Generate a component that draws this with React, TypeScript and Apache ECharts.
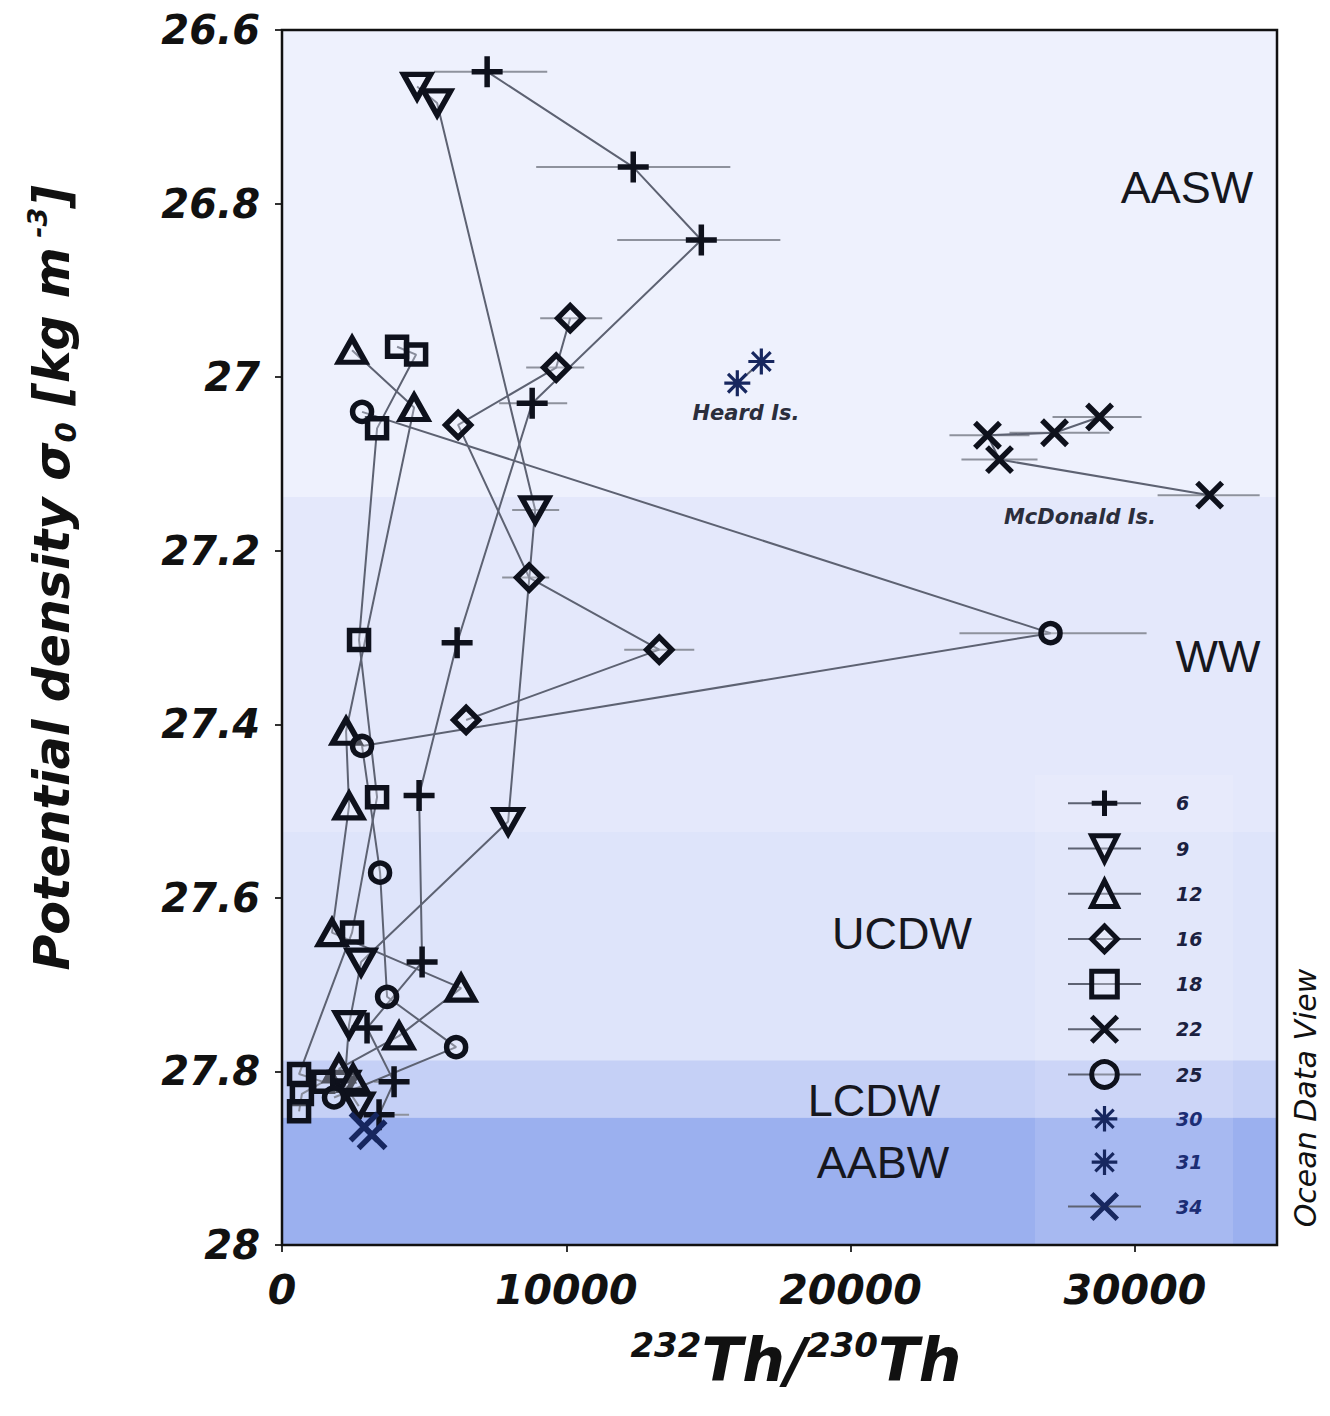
import React, { useEffect, useRef } from 'react';
import * as echarts from 'echarts';

// ---------- data ----------
const xTicks = [0, 10000, 20000, 30000];
const yTicks = [26.6, 26.8, 27, 27.2, 27.4, 27.6, 27.8, 28];

const stationNames = ['6', '9', '12', '16', '18', '22', '25', '30', '31', '34'];

// [232Th/230Th, sigma0]
const st6 = [[7216, 26.648], [12355, 26.758], [14750, 26.842], [8800, 27.03], [6160, 27.306], [4822, 27.482], [4928, 27.674], [2992, 27.75], [3942, 27.812], [3414, 27.85]];
const st9 = [[4752, 26.665], [5456, 26.684], [8906, 27.153], [7955, 27.512], [2781, 27.674], [2358, 27.746], [2200, 27.815], [2700, 27.84]];
const st12 = [[2464, 26.969], [4646, 27.035], [2253, 27.408], [2358, 27.494], [1760, 27.64], [6300, 27.704], [4118, 27.759], [2000, 27.797], [2500, 27.808]];
const st16 = [[10138, 26.932], [9645, 26.989], [6195, 27.055], [8694, 27.231], [13270, 27.314], [6477, 27.395]];
const st18 = [[4048, 26.965], [4717, 26.974], [3344, 27.059], [2710, 27.303], [3344, 27.484], [2464, 27.64], [600, 27.803], [1450, 27.812], [700, 27.826], [600, 27.846]];
const st22 = [[28758, 27.046], [27174, 27.064], [24816, 27.067], [25238, 27.095], [32630, 27.136]];
const st25 = [[2816, 27.04], [27034, 27.295], [2816, 27.425], [3450, 27.571], [3696, 27.714], [6125, 27.772], [1830, 27.83]];
const st30 = [[16016, 27.007]];
const st31 = [[16861, 26.982]];
const st34 = [[2886, 27.864], [3168, 27.873]];

// [xLow, xHigh, sigma0]
const errorBars = [
  [5350, 9330, 26.648], [8941, 15770, 26.758], [11792, 17530, 26.842], [7638, 10032, 27.03],
  [9082, 11264, 26.932], [8589, 10630, 26.989], [8096, 9750, 27.153], [7744, 9398, 27.231],
  [12038, 14502, 27.314], [23830, 30413, 27.295], [23478, 26294, 27.067], [25590, 29110, 27.064],
  [27104, 30237, 27.046], [23900, 26576, 27.095], [30800, 34390, 27.136], [3240, 4470, 27.812],
  [2900, 4470, 27.85],
];

const bandNames = ['AASW', 'WW', 'UCDW', 'LCDW', 'AABW'];
const bandEdges = [26.6, 27.138, 27.524, 27.787, 27.853, 28.0];

// ---------- styles / layout ----------
const W = 1314, H = 1400;
const GL = 274, GT = 22, GW = 995, GH = 1215;
const bandColors = ['#eef1fd', '#e4e8fb', '#dee4fa', '#c5d0f6', '#9bb0ef'];
const LINE = '#5d6272';
const ERR = '#8e929d';
const MK = '#0e111c';
const MK_BLUE = '#17275f';
const FONT = 'DejaVu Sans';

const SYM = {
  plus: 'path://M0,-14L0,14M-14,0L14,0',
  tdown: 'path://M-14,-12L14,-12L0,12Z',
  tup: 'path://M0,-12L14,12L-14,12Z',
  diamond: 'path://M0,-14L14,0L0,14L-14,0Z',
  cross: 'path://M-14,-14L14,14M14,-14L-14,14',
  star: 'path://M0,-14L0,14M-14,0L14,0M-10,-10L10,10M10,-10L-10,10',
};

const stationData = [st6, st9, st12, st16, st18, st22, st25, st30, st31, st34];
const stationStyle = [
  { symbol: SYM.plus, size: 31, color: MK, line: true, bw: 5.5 },
  { symbol: SYM.tdown, size: [27, 24], color: MK, line: true, bw: 5.5 },
  { symbol: SYM.tup, size: [27, 24], color: MK, line: true, bw: 5.5 },
  { symbol: SYM.diamond, size: 25, color: MK, line: true, bw: 5.5 },
  { symbol: 'rect', size: 19, color: MK, line: true, bw: 5.5 },
  { symbol: SYM.cross, size: 25, color: MK, line: true, bw: 5.5 },
  { symbol: 'circle', size: 19, color: MK, line: true, bw: 5.5 },
  { symbol: SYM.star, size: 26, color: MK_BLUE, line: false, bw: 3.2 },
  { symbol: SYM.star, size: 26, color: MK_BLUE, line: false, bw: 3.2 },
  { symbol: SYM.cross, size: 27, color: MK_BLUE, line: true, bw: 5.5 },
];

export default function App() {
  const ref = useRef<HTMLDivElement>(null);
  useEffect(() => {
    if (!ref.current) return;
    const chart = echarts.init(ref.current, null, { renderer: 'svg' });

    const labelFont = { fontFamily: FONT, fontWeight: 'bold', fontStyle: 'italic', color: '#111' };

    const stationSeries = stationNames.map((name, i) => ({
      name,
      type: 'line',
      data: stationData[i],
      symbol: stationStyle[i].symbol,
      symbolSize: stationStyle[i].size,
      showAllSymbol: true,
      lineStyle: { color: LINE, width: stationStyle[i].line ? 2 : 0 },
      itemStyle: { color: 'rgba(240,243,255,0.3)', borderColor: stationStyle[i].color, borderWidth: stationStyle[i].bw },
      emphasis: { disabled: true },
      silent: true,
      z: 4,
    }));

    const option = {
      animation: false,
      grid: { left: GL, top: GT, width: GW, height: GH, containLabel: false, outerBoundsMode: 'none' },
      xAxis: {
        type: 'value', min: 0, max: 35000, interval: 10000,
        axisLine: { show: false },
        axisTick: { show: true, length: 7, customValues: xTicks, lineStyle: { color: '#333', width: 2 } },
        splitLine: { show: false },
        axisLabel: { ...labelFont, fontSize: 41, margin: 24, customValues: xTicks, formatter: (v: number) => String(v) },
      },
      yAxis: {
        type: 'value', min: 26.6, max: 28, interval: 0.2, inverse: true,
        axisLine: { show: false },
        axisTick: { show: true, length: 7, customValues: yTicks, lineStyle: { color: '#333', width: 2 } },
        splitLine: { show: false },
        axisLabel: { ...labelFont, fontSize: 40, margin: 22, customValues: yTicks, formatter: (v: number) => String(parseFloat(v.toFixed(1))) },
      },
      legend: {
        orient: 'vertical',
        left: 1054, top: 775,
        itemWidth: 73, itemHeight: 32, itemGap: 14.6,
        selectedMode: false,
        itemStyle: { borderWidth: 5 },
        textStyle: { fontFamily: FONT, fontWeight: 'bold', fontStyle: 'italic', fontSize: 19, color: '#1b2140', padding: [0, 0, 0, 30] },
        data: stationNames.map((n, i) => ({
          name: n,
          textStyle: i >= 7 ? { color: '#1c2d74' } : undefined,
          itemStyle: i === 7 || i === 8 ? { borderWidth: 3.2 } : undefined,
        })),
      },
      graphic: [
        { type: 'rect', z: 1, silent: true, shape: { x: 1027, y: 767, width: 198, height: GT + GH - 767 }, style: { fill: 'rgba(255,255,255,0.12)' } },
        { type: 'rect', z: 10, silent: true, shape: { x: GL, y: GT, width: GW, height: GH }, style: { fill: 'none', stroke: '#111', lineWidth: 2.5 } },
        ...bandNames.map((n, i) => {
          const pos = [[1179, 179], [1210, 648], [894, 925], [866, 1092], [875, 1154]][i];
          return { type: 'text', z: 5, x: pos[0], y: pos[1], silent: true, style: { text: n, fontFamily: 'Liberation Sans', fontSize: 45, fill: '#16171e', align: 'center', verticalAlign: 'middle' } };
        }),
        { type: 'text', z: 5, x: 738, y: 405, silent: true, style: { text: 'Heard Is.', fontFamily: FONT, fontWeight: 'bold', fontStyle: 'italic', fontSize: 21, fill: '#2b2e3c', align: 'center', verticalAlign: 'middle' } },
        { type: 'text', z: 5, x: 1072, y: 509, silent: true, style: { text: 'McDonald Is.', fontFamily: FONT, fontWeight: 'bold', fontStyle: 'italic', fontSize: 21, fill: '#2b2e3c', align: 'center', verticalAlign: 'middle' } },
        { type: 'text', z: 5, x: 1297, y: 1090, rotation: Math.PI / 2, silent: true, style: { text: 'Ocean Data View', fontFamily: FONT, fontStyle: 'italic', fontSize: 30, fill: '#111', align: 'center', verticalAlign: 'middle' } },
        {
          type: 'text', z: 5, x: 44, y: 570, rotation: Math.PI / 2, silent: true,
          style: {
            text: '{b|Potential density σ}{sub|0}{b| [kg m}{sup| -3}{b|]}',
            align: 'center', verticalAlign: 'middle',
            rich: {
              b: { fontFamily: FONT, fontWeight: 'bold', fontStyle: 'italic', fontSize: 49, fill: '#111', lineHeight: 56 },
              sub: { fontFamily: FONT, fontWeight: 'bold', fontStyle: 'italic', fontSize: 29, fill: '#111', verticalAlign: 'bottom', lineHeight: 56 },
              sup: { fontFamily: FONT, fontWeight: 'bold', fontStyle: 'italic', fontSize: 27, fill: '#111', verticalAlign: 'top', lineHeight: 56 },
            },
          },
        },
        {
          type: 'text', z: 5, x: 788, y: 1320, silent: true,
          style: {
            text: '{sup|232}{b|Th/}{sup|230}{b|Th}',
            align: 'center', verticalAlign: 'top',
            rich: {
              b: { fontFamily: FONT, fontWeight: 'bold', fontStyle: 'italic', fontSize: 60, fill: '#111', lineHeight: 64 },
              sup: { fontFamily: FONT, fontWeight: 'bold', fontStyle: 'italic', fontSize: 34, fill: '#111', verticalAlign: 'top', lineHeight: 64 },
            },
          },
        },
      ],
      series: [
        {
          type: 'custom', z: 0, silent: true, clip: true,
          data: bandNames.map((_, i) => [bandEdges[i], bandEdges[i + 1]]),
          renderItem: (params: any, api: any) => {
            const cs = params.coordSys;
            const y0 = api.coord([0, api.value(0)])[1];
            const y1 = api.coord([0, api.value(1)])[1];
            return {
              type: 'rect',
              shape: { x: cs.x, y: Math.min(y0, y1), width: cs.width, height: Math.abs(y1 - y0) },
              style: { fill: bandColors[params.dataIndex] },
            };
          },
        },
        {
          type: 'custom', z: 2, silent: true,
          data: errorBars,
          encode: { x: [0, 1], y: 2 },
          renderItem: (params: any, api: any) => {
            const a = api.coord([api.value(0), api.value(2)]);
            const b = api.coord([api.value(1), api.value(2)]);
            return { type: 'line', shape: { x1: a[0], y1: a[1], x2: b[0], y2: b[1] }, style: { stroke: ERR, lineWidth: 2 } };
          },
        },
        {
          type: 'line', z: 3, silent: true, symbol: 'none',
          data: [st30[0], st31[0]],
          lineStyle: { color: LINE, width: 2 },
        },
        ...stationSeries,
      ],
    };

    chart.setOption(option as any);
    return () => chart.dispose();
  }, []);

  return <div ref={ref} style={{ width: W, height: H }} />;
}
